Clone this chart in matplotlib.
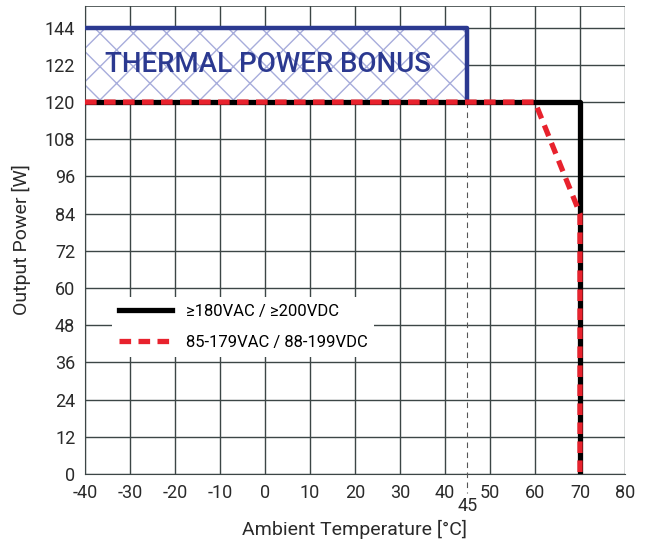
import matplotlib.pyplot as plt
from matplotlib.patches import Rectangle

plt.rcParams['font.family'] = ['Roboto', 'DejaVu Sans']
plt.rcParams['axes.unicode_minus'] = False
plt.rcParams['hatch.linewidth'] = 1.0

# data
temp_high = [-40, 70, 70]
power_high = [120, 120, 0]
temp_low = [-40, 60, 70, 70]
power_low = [120, 120, 84, 0]
bonus_temp = [-40, 45]
bonus_power = [120, 144]
x_ticks = [-40, -30, -20, -10, 0, 10, 20, 30, 40, 50, 60, 70, 80]
y_ticks = [0, 12, 24, 36, 48, 60, 72, 84, 96, 108, 120, 132, 144]
y_labels = ['0', '12', '24', '36', '48', '60', '72', '84', '96', '108', '120', '122', '144']

grid_c = '#3c4646'
blue = '#2b3990'
red = '#e8222d'
txt_c = '#2a2a2a'

fig = plt.figure(figsize=(6.5, 5.5), dpi=100)
ax = fig.add_axes([0.1308, 0.1382, 0.8307, 0.8508])

# thermal power bonus area
ax.add_patch(Rectangle((bonus_temp[0], bonus_power[0]), bonus_temp[1] - bonus_temp[0],
                       bonus_power[1] - bonus_power[0], facecolor='white',
                       edgecolor='#a7addb', hatch='x', linewidth=0, zorder=1))
ax.plot([bonus_temp[0], bonus_temp[1], bonus_temp[1]],
        [bonus_power[1], bonus_power[1], bonus_power[0]],
        color=blue, lw=3.2, solid_capstyle='butt', zorder=4)
ax.text(0.7, 132, 'THERMAL POWER BONUS', color=blue, fontsize=20,
        fontweight='medium', ha='center', va='center', zorder=5)

# 45 degC marker
ax.plot([45, 45], [120, -6], color='#555555', lw=0.8, dashes=(5, 4),
        clip_on=False, zorder=3)
ax.text(45, -7.5, '45', fontsize=13, ha='center', va='top', color=txt_c)

ax.plot(temp_high, power_high, color='black', lw=3.8, zorder=5,
        label='≥180VAC / ≥200VDC')
ax.plot(temp_low, power_low, color=red, lw=3.8, dashes=(2.2, 1.4), zorder=6,
        label='85-179VAC / 88-199VDC')

ax.set_xlim(-40, 80)
ax.set_ylim(0, 151)
ax.set_xticks(x_ticks)
ax.set_yticks(y_ticks)
ax.set_yticklabels(y_labels)
ax.tick_params(length=0, labelsize=13, pad=7, colors=txt_c)
ax.grid(True, color=grid_c, lw=1, zorder=0)
ax.set_axisbelow(True)
ax.axhline(151, color=grid_c, lw=1.2, zorder=0)
for s in ['top', 'right']:
    ax.spines[s].set_visible(False)
for s in ['left', 'bottom']:
    ax.spines[s].set_color(grid_c)

ax.set_xlabel('Ambient Temperature [°C]', fontsize=14, labelpad=13, color=txt_c)
ax.set_ylabel('Output Power [W]', fontsize=14, labelpad=10, color=txt_c)

leg = ax.legend(loc='upper left', bbox_to_anchor=(0.035, 0.395), frameon=True,
                fontsize=12, handlelength=3.2, borderpad=0.4, labelspacing=0.95,
                handletextpad=0.8)
leg.get_frame().set_edgecolor('none')
leg.get_frame().set_facecolor('white')
leg.get_frame().set_alpha(1)

plt.savefig('out.png', dpi=100)
